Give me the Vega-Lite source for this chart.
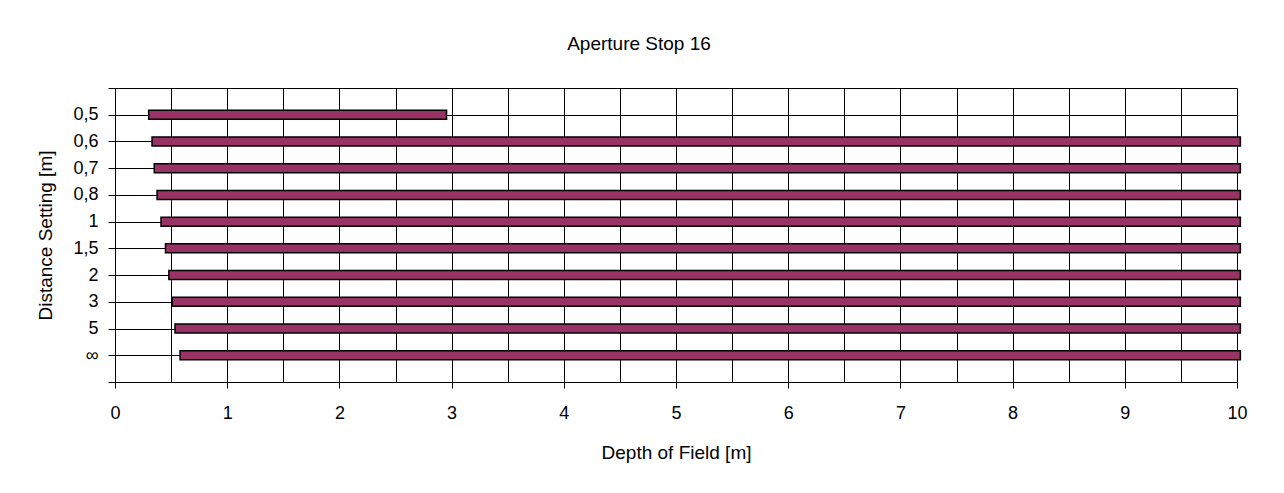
{
  "$schema": "https://vega.github.io/schema/vega-lite/v6.json",
  "width": 1122,
  "height": 294,
  "autosize": {"type": "none"},
  "padding": {"left": 115, "top": 88, "right": 47, "bottom": 111},
  "background": "white",
  "title": {
    "text": "Aperture Stop 16",
    "font": "Liberation Sans",
    "fontSize": 19,
    "fontWeight": "normal",
    "color": "black",
    "anchor": "middle",
    "offset": 25,
    "dx": -37
  },
  "data": {
    "values": [
      {"setting": "0,5", "near": 0.30, "far": 2.955},
      {"setting": "0,6", "near": 0.33, "far": 10.03},
      {"setting": "0,7", "near": 0.35, "far": 10.03},
      {"setting": "0,8", "near": 0.375, "far": 10.03},
      {"setting": "1", "near": 0.41, "far": 10.03},
      {"setting": "1,5", "near": 0.45, "far": 10.03},
      {"setting": "2", "near": 0.48, "far": 10.03},
      {"setting": "3", "near": 0.51, "far": 10.03},
      {"setting": "5", "near": 0.535, "far": 10.03},
      {"setting": "∞", "near": 0.58, "far": 10.03}
    ]
  },
  "mark": {"type": "bar", "size": 9, "fill": "#993366", "stroke": "black", "strokeWidth": 1.5, "clip": false},
  "encoding": {
    "y": {
      "field": "setting",
      "type": "ordinal",
      "sort": null,
      "scale": {
        "type": "point",
        "domain": [" ", "0,5", "0,6", "0,7", "0,8", "1", "1,5", "2", "3", "5", "∞", "  "],
        "padding": 0
      },
      "axis": {
        "title": "Distance Setting [m]",
        "titleFont": "Liberation Sans",
        "titleFontSize": 19,
        "titleFontWeight": "normal",
        "titleColor": "black",
        "titlePadding": 17,
        "labelFont": "Liberation Sans",
        "labelFontSize": 18,
        "labelColor": "black",
        "labelPadding": 10,
        "tickSize": 7,
        "tickColor": "black",
        "domainColor": "black",
        "grid": true,
        "gridColor": "black",
        "gridWidth": 1
      }
    },
    "x": {
      "field": "near",
      "type": "quantitative",
      "scale": {"domain": [0, 10], "nice": false, "zero": false},
      "axis": {
        "title": "Depth of Field [m]",
        "values": [0, 0.5, 1, 1.5, 2, 2.5, 3, 3.5, 4, 4.5, 5, 5.5, 6, 6.5, 7, 7.5, 8, 8.5, 9, 9.5, 10],
        "labelExpr": "datum.value % 1 === 0 ? format(datum.value, 'd') : ''",
        "labelOverlap": false,
        "labelFlush": false,
        "titleFont": "Liberation Sans",
        "titleFontSize": 19,
        "titleFontWeight": "normal",
        "titleColor": "black",
        "titlePadding": 21,
        "labelFont": "Liberation Sans",
        "labelFontSize": 18,
        "labelColor": "black",
        "labelPadding": 16,
        "tickSize": 6,
        "tickColor": "black",
        "tickOpacity": {"condition": {"test": "datum.value % 1 !== 0", "value": 0}, "value": 1},
        "domainColor": "black",
        "grid": true,
        "gridColor": "black",
        "gridWidth": 1
      }
    },
    "x2": {"field": "far"}
  },
  "config": {"view": {"stroke": null}}
}
